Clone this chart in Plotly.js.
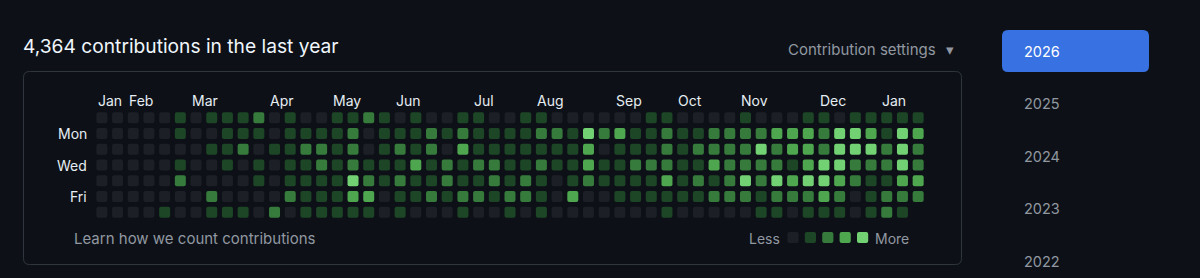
<!DOCTYPE html>
<html>
<head>
<meta charset="utf-8">
<script src="https://cdn.plot.ly/plotly-3.0.1.min.js"></script>
<style>
  html, body { margin: 0; padding: 0; background: #0d1117; }
  #chart { width: 1200px; height: 278px; }
</style>
</head>
<body>
<div id="chart"></div>
<script>
// ---------- DATA ----------
const weekdays = ['Sun', 'Mon', 'Tue', 'Wed', 'Thu', 'Fri', 'Sat'];
const dayLabels = ['', 'Mon', '', 'Wed', '', 'Fri', ''];
const monthLabels = ['Jan', 'Feb', 'Mar', 'Apr', 'May', 'Jun', 'Jul', 'Aug', 'Sep', 'Oct', 'Nov', 'Dec', 'Jan'];
const monthStartWeek = [0, 2, 6, 11, 15, 19, 24, 28, 33, 37, 41, 46, 50];
const years = ['2026', '2025', '2024', '2023', '2022'];
const selectedYear = '2026';
const totalContributions = '4,364';

// contribution level (0-4) per week column, one array per weekday; null = no day
const sun = [0,0,0,0,0,1,0,1,1,1,2, 0,1,0,0,1,1,2,1,0,1,0, 0,1,1,0,0,1,1,0,0,0,0, 0,0,1,1,0,0,0,0,1,0,0, 0,1,1,0,1,1,1,1,1];
const mon = [0,0,0,0,0,1,0,0,1,1,1, 0,1,1,1,1,2,0,1,1,1,2, 1,2,1,1,1,1,2,2,1,4,2, 3,1,1,2,1,1,2,2,2,2,3, 3,3,2,4,4,3,1,4,3];
const tue = [0,0,0,0,0,0,0,1,1,2,0, 1,1,2,2,1,2,0,1,2,1,2, 0,3,1,1,1,1,1,1,1,3,0, 1,1,1,2,1,2,2,2,2,4,2, 3,3,2,4,4,4,2,4,2];
const wed = [0,0,0,0,0,1,0,0,1,0,1, 0,1,1,2,1,2,1,1,1,3,1, 2,1,2,2,1,1,2,1,1,3,1, 1,2,2,2,1,1,3,2,2,2,2, 1,3,4,4,2,2,2,4,2];
const thu = [0,0,0,0,0,2,0,0,0,0,1, 0,1,1,1,1,4,2,1,2,1,1, 2,1,1,2,1,2,1,0,1,2,1, 1,1,1,3,1,2,1,2,4,2,4, 3,4,4,3,2,1,1,3,3];
const fri = [0,0,0,0,0,0,0,2,0,0,0, 0,2,1,1,1,3,3,0,1,1,2, 1,2,2,1,2,2,1,0,3,0,0, 1,1,1,1,1,1,2,2,2,1,2, 2,2,3,2,0,1,2,2,2];
const sat = [0,0,0,0,1,0,0,1,1,1,0, 2,0,1,1,1,1,1,0,1,0,0, 0,1,0,0,1,0,1,0,0,0,0, 0,0,0,1,0,0,0,0,0,1,1, 0,1,1,1,0,1,2,1,null];
const levelsByDay = [sun, mon, tue, wed, thu, fri, sat];
const legendLevels = [0, 1, 2, 3, 4];

// ---------- STYLE ----------
const palette = ['#1c1f26', '#1d4626', '#367b3c', '#4ea64f', '#72d172'];
const FONT = 'Inter, "Noto Sans", "DejaVu Sans", sans-serif';
const W = 1200, H = 278;
const M = { l: 94, r: 274, t: 110, b: 58 };
const PW = W - M.l - M.r, PH = H - M.t - M.b;
const px = v => (v - M.l) / PW;           // pixel x -> paper x
const py = v => (H - M.b - v) / PH;       // pixel y -> paper y
const CELL = 0.7;

// ---------- TRACES ----------
const traces = levelsByDay.map((row, d) => {
  const xs = [], cols = [];
  row.forEach((lv, w) => { if (lv !== null) { xs.push(w); cols.push(palette[lv]); } });
  return {
    type: 'bar',
    name: weekdays[d],
    x: xs,
    y: xs.map(() => CELL),
    base: xs.map(() => d - CELL / 2),
    width: CELL,
    marker: { color: cols, cornerradius: 2, line: { width: 0 } },
    hoverinfo: 'skip',
    showlegend: false
  };
});

// ---------- SHAPES ----------
function roundRect(x0, y0, x1, y1, r) {
  const X = px, Y = py;
  return 'M' + X(x0 + r) + ',' + Y(y0) +
    ' L' + X(x1 - r) + ',' + Y(y0) +
    ' Q' + X(x1) + ',' + Y(y0) + ' ' + X(x1) + ',' + Y(y0 + r) +
    ' L' + X(x1) + ',' + Y(y1 - r) +
    ' Q' + X(x1) + ',' + Y(y1) + ' ' + X(x1 - r) + ',' + Y(y1) +
    ' L' + X(x0 + r) + ',' + Y(y1) +
    ' Q' + X(x0) + ',' + Y(y1) + ' ' + X(x0) + ',' + Y(y1 - r) +
    ' L' + X(x0) + ',' + Y(y0 + r) +
    ' Q' + X(x0) + ',' + Y(y0) + ' ' + X(x0 + r) + ',' + Y(y0) + ' Z';
}
const shapes = [
  { type: 'path', xref: 'paper', yref: 'paper', path: roundRect(23.5, 71.5, 961.5, 264.5, 6),
    line: { color: '#30363d', width: 1 }, fillcolor: 'rgba(0,0,0,0)', layer: 'below' },
  { type: 'path', xref: 'paper', yref: 'paper', path: roundRect(1002, 30, 1149, 72, 6),
    line: { width: 0 }, fillcolor: '#3771e2', layer: 'below' }
];
legendLevels.forEach((lv, i) => {
  const cx = 793 + i * 17.4, cy = 237.5, s = 5.6;
  shapes.push({ type: 'path', xref: 'paper', yref: 'paper',
    path: roundRect(cx - s, cy - s, cx + s, cy + s, 2),
    line: { width: 0 }, fillcolor: palette[lv] });
});

// ---------- ANNOTATIONS ----------
const ann = [];
const txt = (x, y, text, opts) => Object.assign({
  xref: 'paper', yref: 'paper', x: px(x), y: py(y), text: text, showarrow: false,
  xanchor: 'left', yanchor: 'middle', font: { family: FONT, size: 14, color: '#9198a1' }
}, opts || {});

ann.push(txt(20.5, 46, totalContributions + ' contributions in the last year',
  { font: { family: FONT, size: 19.2, color: '#f0f6fc' } }));
ann.push(txt(938, 49, 'Contribution settings', { xanchor: 'right',
  font: { family: FONT, size: 15, color: '#9198a1' } }));
ann.push(txt(944, 49, '▾', { font: { family: FONT, size: 15, color: '#9198a1' } }));
ann.push(txt(72, 238, 'Learn how we count contributions',
  { font: { family: FONT, size: 15, color: '#9198a1' } }));
ann.push(txt(782, 238, 'Less', { xanchor: 'right' }));
ann.push(txt(873, 238, 'More'));

monthLabels.forEach((m, i) => {
  ann.push({ xref: 'x', yref: 'paper', x: monthStartWeek[i] - 0.4, y: py(100), text: m,
    showarrow: false, xanchor: 'left', yanchor: 'middle',
    font: { family: FONT, size: 14, color: '#e6edf3' } });
});
dayLabels.forEach((d, i) => {
  if (!d) return;
  ann.push({ xref: 'paper', yref: 'y', x: px(89), y: i, text: d, showarrow: false,
    xanchor: 'right', yanchor: 'middle',
    font: { family: FONT, size: 14, color: '#e6edf3' } });
});
years.forEach((yr, i) => {
  const sel = yr === selectedYear;
  ann.push(txt(1022, 51 + i * 52.5, yr,
    { font: { family: FONT, size: 14.5, color: sel ? '#ffffff' : '#9198a1' } }));
});

// ---------- LAYOUT ----------
const layout = {
  width: W, height: H,
  margin: { l: M.l, r: M.r, t: M.t, b: M.b, pad: 0 },
  paper_bgcolor: '#0d1117', plot_bgcolor: 'rgba(0,0,0,0)',
  barmode: 'overlay',
  showlegend: false,
  xaxis: { range: [-0.5, 52.5], visible: false, fixedrange: true },
  yaxis: { range: [6.5, -0.5], visible: false, fixedrange: true },
  shapes: shapes,
  annotations: ann,
  font: { family: FONT }
};

Plotly.newPlot('chart', traces, layout, { displayModeBar: false, staticPlot: true });
</script>
</body>
</html>
